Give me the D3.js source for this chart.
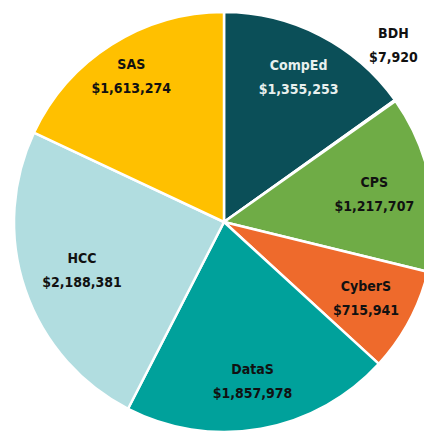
<!DOCTYPE html>
<html>
<head>
<meta charset="utf-8">
<script src="https://cdn.jsdelivr.net/npm/d3@7"></script>
<style>
  html, body { margin: 0; padding: 0; background: #fff; }
  svg { display: block; }
  text { font-family: "DejaVu Sans Condensed", "DejaVu Sans", sans-serif; font-weight: bold; font-stretch: condensed; }
</style>
</head>
<body>
<svg></svg>
<script>
let width = 424, height = 435;

// chart data
const programs = ["CompEd", "BDH", "CPS", "CyberS", "DataS", "HCC", "SAS"];
const amounts = [1355253, 7920, 1217707, 715941, 1857978, 2188381, 1613274];
const colors = ["#0b4f58", "#9aa5a8", "#6fac46", "#ee6a2c", "#00a19b", "#b1dde0", "#ffc000"];
const textColors = ["#e8f0ee", "#111", "#111", "#111", "#111", "#111", "#111"];

let data = programs.map((p, i) => ({ name: p, value: amounts[i], color: colors[i], text: textColors[i] }));

let svg = d3.select("svg")
    .attr("width", width)
    .attr("height", height);

let cx = 224, cy = 222, radius = 210;

let g = svg.append("g")
    .attr("transform", "translate(" + cx + "," + cy + ")");

let pie = d3.pie()
    .sort(null)
    .value(d => d.value);

let arc = d3.arc()
    .innerRadius(0)
    .outerRadius(radius);

// how far from the centre each label sits (layout only)
let labelRadius = { CompEd: 163, BDH: 245, CPS: 153, CyberS: 161, DataS: 162, HCC: 150, SAS: 173 };
// BDH slice is too thin, its label is pushed round a little
let labelTurn = { BDH: -0.19 };

let arcs = pie(data);

g.selectAll("path")
    .data(arcs)
    .enter()
    .append("path")
    .attr("d", arc)
    .attr("fill", d => d.data.color)
    .attr("stroke", "#fff")
    .attr("stroke-width", 2.5)
    .attr("stroke-linejoin", "round");

let fmt = d3.format("$,");

let labels = g.selectAll("g.label")
    .data(arcs)
    .enter()
    .append("g")
    .attr("class", "label")
    .attr("transform", d => {
        let r = labelRadius[d.data.name] || 160;
        let t = labelTurn[d.data.name] || 0;
        let c = d3.arc().innerRadius(r).outerRadius(r)
            .centroid({ startAngle: d.startAngle + t, endAngle: d.endAngle + t });
        return "translate(" + c[0] + "," + c[1] + ")";
    });

labels.append("text")
    .attr("text-anchor", "middle")
    .attr("y", -7)
    .attr("font-size", 14)
    .attr("fill", d => d.data.text)
    .text(d => d.data.name);

labels.append("text")
    .attr("text-anchor", "middle")
    .attr("y", 17)
    .attr("font-size", 14)
    .attr("fill", d => d.data.text)
    .text(d => fmt(d.data.value));
</script>
</body>
</html>
